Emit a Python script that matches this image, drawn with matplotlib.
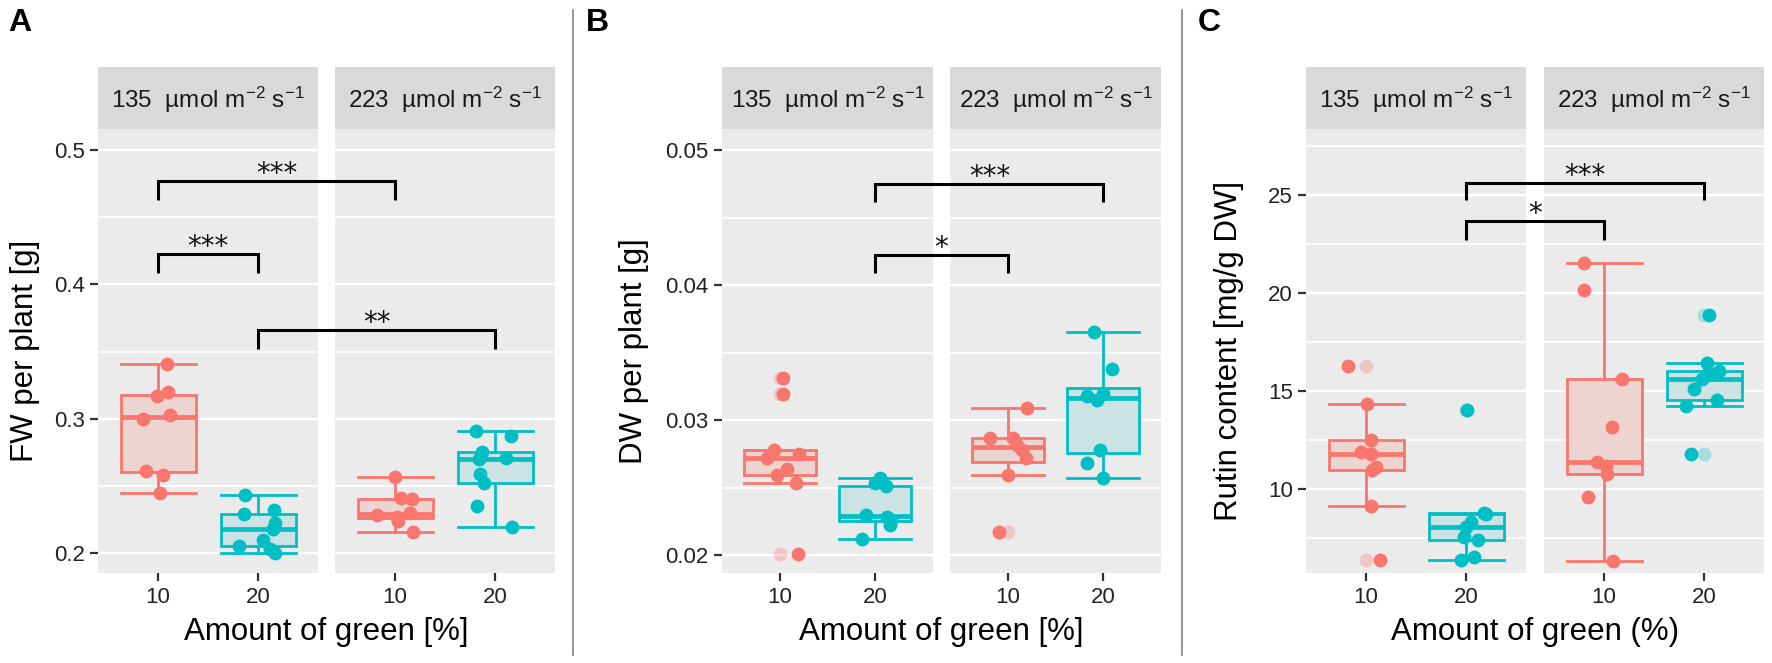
import numpy as np
import matplotlib
matplotlib.use("Agg")
import matplotlib.pyplot as plt
from matplotlib.lines import Line2D

plt.rcParams['font.family'] = ['Liberation Sans', 'DejaVu Sans']
plt.rcParams['mathtext.fontset'] = 'custom'
plt.rcParams['mathtext.rm'] = 'Liberation Sans'
plt.rcParams['mathtext.it'] = 'Liberation Sans:italic'

# facets / groups
facet_labels = [r'135  µmol m$^{-2}$ s$^{-1}$', r'223  µmol m$^{-2}$ s$^{-1}$']
green_labels = ['10', '20']

# panel A: fresh weight per plant [g]
fw_135_10 = [0.341, 0.320, 0.317, 0.303, 0.300, 0.261, 0.258, 0.245]
fw_135_20 = [0.243, 0.232, 0.229, 0.222, 0.218, 0.210, 0.205, 0.203, 0.200]
fw_223_10 = [0.2565, 0.241, 0.240, 0.230, 0.228, 0.227, 0.224, 0.2155]
fw_223_20 = [0.2905, 0.287, 0.275, 0.271, 0.270, 0.259, 0.252, 0.235, 0.219]
fw_jit_135_10 = [0.09, 0.10, -0.01, 0.12, -0.15, -0.12, 0.05, 0.02]
fw_jit_135_20 = [-0.13, 0.16, -0.14, 0.17, 0.15, 0.05, -0.19, 0.12, 0.17]
fw_jit_223_10 = [0.0, 0.06, 0.17, 0.15, -0.18, 0.02, 0.03, 0.18]
fw_jit_223_20 = [-0.19, 0.16, -0.13, 0.11, -0.16, -0.15, -0.11, -0.18, 0.17]

# panel B: dry weight per plant [g]
dw_135_10 = [0.0331, 0.0319, 0.0278, 0.0275, 0.0272, 0.0264, 0.0259, 0.0253, 0.0201]
dw_135_20 = [0.0257, 0.0253, 0.0251, 0.0230, 0.0228, 0.0226, 0.0222, 0.0212]
dw_223_10 = [0.0309, 0.0287, 0.0287, 0.02815, 0.0278, 0.0272, 0.0259, 0.0217]
dw_223_20 = [0.0365, 0.0338, 0.0319, 0.0318, 0.0315, 0.0278, 0.0268, 0.0257]
dw_jit_135_10 = [0.04, 0.04, -0.06, 0.20, -0.13, 0.08, -0.03, 0.17, 0.19]
dw_jit_135_20 = [0.05, 0.0, 0.11, -0.10, 0.12, 0.16, 0.15, -0.14]
dw_jit_223_10 = [0.20, -0.18, 0.06, 0.10, 0.15, 0.19, 0.0, -0.09]
dw_jit_223_20 = [-0.10, 0.09, 0.0, -0.17, -0.07, -0.04, -0.17, 0.0]

# panel C: rutin content [mg/g DW]
rutin_135_10 = [16.28, 14.35, 12.5, 11.88, 11.8, 11.1, 10.95, 9.12, 6.36]
rutin_135_20 = [14.04, 8.75, 8.72, 8.3, 8.08, 7.56, 7.4, 6.53, 6.36]
rutin_223_10 = [21.55, 20.15, 15.6, 13.14, 11.36, 11.19, 10.76, 9.59, 6.3]
rutin_223_20 = [18.9, 16.45, 16.03, 15.9, 15.6, 15.11, 14.56, 14.25, 11.76]
rutin_jit_135_10 = [-0.18, 0.01, 0.05, -0.05, 0.05, 0.10, 0.06, 0.05, 0.14]
rutin_jit_135_20 = [0.01, 0.18, 0.20, 0.05, 0.0, -0.02, 0.12, 0.08, -0.05]
rutin_jit_223_10 = [-0.20, -0.20, 0.18, 0.08, -0.07, 0.02, 0.03, -0.16, 0.09]
rutin_jit_223_20 = [0.05, 0.03, 0.15, 0.05, -0.02, -0.10, 0.13, -0.18, -0.13]

# significance brackets: (facet, group) -> (facet, group), bar height, tip height, label
fw_sig = [((0, 0), (1, 0), 0.4771, 0.4627, '***'),
          ((0, 0), (0, 1), 0.4224, 0.4084, '***'),
          ((0, 1), (1, 1), 0.3662, 0.3520, '**')]
dw_sig = [((0, 1), (1, 1), 0.04748, 0.04617, '***'),
          ((0, 1), (1, 0), 0.04222, 0.04090, '*')]
rutin_sig = [((0, 1), (1, 1), 25.6, 24.74, '***'),
             ((0, 1), (1, 0), 23.67, 22.70, '*')]

RED = '#F8766D'
CYAN = '#00BFC4'
RED_FILL = '#EDD4D1'
CYAN_FILL = '#CBE3E4'

W, H = 1772, 663
fig = plt.figure(figsize=(W / 100, H / 100), dpi=100)

TOP, BOTTOM = 129, 573
STRIP_TOP = 67


def px_axes(x0, x1, y0, y1):
    return fig.add_axes([x0 / W, 1 - y1 / H, (x1 - x0) / W, (y1 - y0) / H])


def draw_panel(facets_px, data, jitter, ylim, yticks, yminor, ylabel, ylabel_x,
               xlabel, sig):
    axes = []
    for fi, (x0, x1) in enumerate(facets_px):
        ax = px_axes(x0, x1, TOP, BOTTOM)
        ax.set_facecolor('#EBEBEB')
        for s in ax.spines.values():
            s.set_visible(False)
        ax.set_xlim(0.4, 2.6)
        ax.set_ylim(*ylim)
        ax.set_yticks(yticks)
        ax.set_yticks(yminor, minor=True)
        ax.grid(which='major', axis='y', color='white', lw=1.7)
        ax.grid(which='minor', axis='y', color='white', lw=1.2)
        ax.set_axisbelow(True)
        ax.set_xticks([1, 2])
        ax.set_xticklabels(green_labels)
        ax.tick_params(axis='x', length=6, width=1.6, color='#333333',
                       labelsize=16, labelcolor='#222222', pad=4)
        ax.tick_params(axis='y', which='minor', length=0)
        if fi == 0:
            ax.tick_params(axis='y', which='major', length=5.5, width=1.6,
                           color='#333333', labelsize=16,
                           labelcolor='#222222', pad=4)
        else:
            ax.tick_params(axis='y', which='major', length=0, labelleft=False)

        for gi, (col, fill) in enumerate([(RED, RED_FILL), (CYAN, CYAN_FILL)]):
            vals = np.array(data[fi][gi])
            pos = gi + 1
            ax.boxplot(vals, positions=[pos], widths=0.75, whis=1.5,
                       patch_artist=True, capwidths=0.75, manage_ticks=False,
                       boxprops=dict(facecolor=fill, edgecolor=col, lw=2.0),
                       medianprops=dict(color=col, lw=3.4),
                       whiskerprops=dict(color=col, lw=2.0),
                       capprops=dict(color=col, lw=2.0),
                       flierprops=dict(marker='o', markerfacecolor=col,
                                       markeredgecolor='none', markersize=10,
                                       alpha=0.3))
            ax.plot(pos + np.array(jitter[fi][gi]), vals, 'o', color=col,
                    ms=10, mec='none', zorder=5, clip_on=False)

        # strip
        sx = px_axes(x0, x1, STRIP_TOP, TOP)
        sx.set_facecolor('#D9D9D9')
        sx.set_xticks([])
        sx.set_yticks([])
        for s in sx.spines.values():
            s.set_visible(False)
        sx.text(0.5, 0.47, facet_labels[fi], ha='center', va='center',
                fontsize=17.5, color='#1A1A1A', transform=sx.transAxes)
        axes.append(ax)

    fig.text(ylabel_x / W, 1 - (TOP + BOTTOM) / 2 / H, ylabel, rotation=90,
             ha='center', va='center', fontsize=22.5)
    xc = (facets_px[0][0] + facets_px[1][1]) / 2
    fig.text(xc / W, 1 - 632 / H, xlabel, ha='center', va='center',
             fontsize=22.5)

    inv = fig.transFigure.inverted()
    for (fa, ga), (fb, gb), y, tip, lab in sig:
        pa = axes[fa].transData.transform([(ga + 1, tip), (ga + 1, y)])
        pb = axes[fb].transData.transform([(gb + 1, y), (gb + 1, tip)])
        pts = inv.transform(np.vstack([pa, pb]))
        fig.add_artist(Line2D(pts[:, 0], pts[:, 1], transform=fig.transFigure,
                              color='black', lw=2.2, solid_joinstyle='miter',
                              solid_capstyle='butt'))
        xm = (pts[1, 0] + pts[2, 0]) / 2
        fig.text(xm, pts[1, 1] - 1 / H, lab, ha='center', va='baseline',
                 fontsize=20, family='DejaVu Sans', color='#111111')


draw_panel([(98, 318), (335, 555)],
           [[fw_135_10, fw_135_20], [fw_223_10, fw_223_20]],
           [[fw_jit_135_10, fw_jit_135_20], [fw_jit_223_10, fw_jit_223_20]],
           (0.1851, 0.5157), [0.2, 0.3, 0.4, 0.5], [0.25, 0.35, 0.45],
           'FW per plant [g]', 25, 'Amount of green [%]', fw_sig)

draw_panel([(722, 933), (950, 1161)],
           [[dw_135_10, dw_135_20], [dw_223_10, dw_223_20]],
           [[dw_jit_135_10, dw_jit_135_20], [dw_jit_223_10, dw_jit_223_20]],
           (0.01867, 0.05156), [0.02, 0.03, 0.04, 0.05], [0.025, 0.035, 0.045],
           'DW per plant [g]', 634, 'Amount of green [%]', dw_sig)

draw_panel([(1306, 1526), (1544, 1764)],
           [[rutin_135_10, rutin_135_20], [rutin_223_10, rutin_223_20]],
           [[rutin_jit_135_10, rutin_jit_135_20],
            [rutin_jit_223_10, rutin_jit_223_20]],
           (5.71, 28.37), [10, 15, 20, 25], [7.5, 12.5, 17.5, 22.5, 27.5],
           'Rutin content [mg/g DW]', 1229, 'Amount of green (%)', rutin_sig)

# separators and panel letters
for xd in (573, 1182):
    fig.add_artist(Line2D([xd / W, xd / W], [1 - 10 / H, 1 - 655 / H],
                          transform=fig.transFigure, color='#8C8C8C', lw=1.3))
for xl, lab in ((8, 'A'), (586, 'B'), (1198, 'C')):
    fig.text(xl / W, 1 - 23 / H, lab, ha='left', va='center', fontsize=23,
             fontweight='bold')

fig.savefig('out.png', dpi=100)
